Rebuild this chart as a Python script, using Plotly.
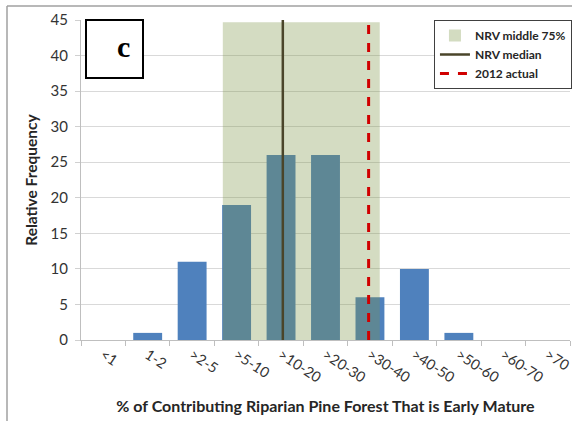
import plotly.graph_objects as go

# dados
categories = ["<1", "1-2", ">2-5", ">5-10", ">10-20", ">20-30", ">30-40",
              ">40-50", ">50-60", ">60-70", ">70"]
rel_freq = [0, 1, 11, 19, 26, 26, 6, 10, 1, 0, 0]

# faixa NRV (posição em índice de categoria) e linhas de referência
nrv_low, nrv_high, nrv_top = 2.69, 6.22, 44.7
nrv_median = 4.04
actual_2012 = 5.97

FONT = "Lato, 'Open Sans', sans-serif"
W, H = 572, 421
ML, MR, MT, MB = 81, 2, 20, 81


def px_x(px):
    return (px - ML) / (W - ML - MR)


def px_y(py):
    return 1 - (py - MT) / (H - MT - MB)


fig = go.Figure()

fig.add_trace(go.Bar(
    x=categories,
    y=rel_freq,
    marker_color="#4F81BD",
    marker_line_width=0,
    showlegend=False,
    hoverinfo="x+y",
))

# faixa do meio 75% (sobre as barras, semi-transparente)
fig.add_shape(type="rect", xref="x", yref="y",
              x0=nrv_low, x1=nrv_high, y0=0, y1=nrv_top,
              fillcolor="rgb(123,150,69)", opacity=0.33, line_width=0,
              layer="above", showlegend=True, name="NRV middle 75%")

fig.add_shape(type="line", xref="x", yref="y",
              x0=nrv_median, x1=nrv_median, y0=0, y1=45,
              line=dict(color="#4A452A", width=2.5),
              layer="above", showlegend=True, name="NRV median")

fig.add_shape(type="line", xref="x", yref="y",
              x0=actual_2012, x1=actual_2012, y0=0, y1=nrv_top,
              line=dict(color="#D00000", width=3, dash="dash"),
              layer="above", showlegend=True, name="2012 actual")

# caixa com a letra "c"
fig.add_shape(type="rect", xref="paper", yref="paper",
              x0=px_x(86), x1=px_x(143), y0=px_y(78), y1=px_y(20),
              line=dict(color="black", width=2), fillcolor="white", layer="above")
fig.add_annotation(text="<b>c</b>", xref="paper", yref="paper",
                   x=px_x(114.5), y=px_y(47), yanchor="middle", showarrow=False,
                   font=dict(family="Liberation Serif", size=30, color="black"))

# moldura externa (bordas visíveis: esquerda e topo)
fig.add_shape(type="line", xref="paper", yref="paper",
              x0=px_x(7), x1=px_x(7), y0=px_y(6), y1=px_y(H + 5),
              line=dict(color="#A0A0A0", width=1.5))
fig.add_shape(type="line", xref="paper", yref="paper",
              x0=px_x(7), x1=px_x(W + 5), y0=px_y(6), y1=px_y(6),
              line=dict(color="#A0A0A0", width=1.5))

fig.update_layout(
    width=W, height=H,
    margin=dict(l=ML, r=MR, t=MT, b=MB, autoexpand=False),
    plot_bgcolor="white",
    paper_bgcolor="white",
    bargap=0.35,
    font=dict(family=FONT, size=14, color="#333333"),
    legend=dict(
        x=1.004, y=1, xanchor="right", yanchor="top",
        bgcolor="white", bordercolor="#404040", borderwidth=1,
        font=dict(size=12, color="#262626", weight="bold"),
        itemwidth=30,
        tracegroupgap=2,
    ),
)

fig.update_xaxes(
    range=[-0.5, len(categories) - 0.5],
    automargin=False,
    tickangle=33,
    ticks="outside", tickson="boundaries", ticklen=5, tickcolor="#BFBFBF",
    showline=True, linecolor="#BFBFBF", linewidth=1,
    showgrid=False,
    tickfont=dict(size=14.5),
    title=dict(text="% of Contributing Riparian Pine Forest That is Early Mature",
               font=dict(size=16, weight="bold", color="#262626"), standoff=16),
)

fig.update_yaxes(
    range=[0, 45], dtick=5,
    automargin=False,
    ticks="outside", ticklen=5, tickcolor="#D0D0D0",
    ticklabelstandoff=4,
    showline=True, linecolor="#BFBFBF", linewidth=1,
    showgrid=True, gridcolor="#D9D9D9",
    zeroline=False,
    tickfont=dict(size=15),
    title=dict(text="Relative Frequency",
               font=dict(size=15.5, weight="bold", color="#262626"), standoff=9),
)

# sem margem do <body>, para a figura ocupar a janela inteira
fig.write_html("out.html",
               config={"displayModeBar": False},
               post_script="document.body.style.margin='0';document.body.style.overflow='hidden';")
